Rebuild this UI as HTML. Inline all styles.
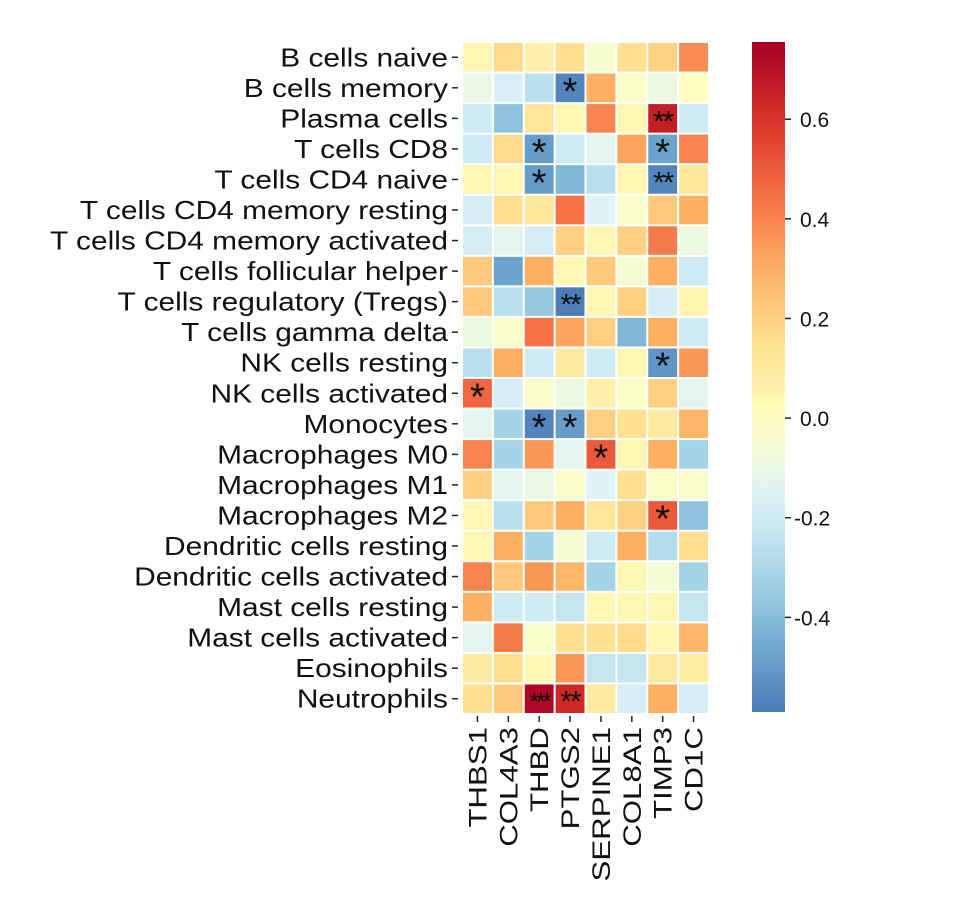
<!DOCTYPE html>
<html><head><meta charset="utf-8">
<style>
html,body{margin:0;padding:0;background:#fff;}
svg{display:block;font-family:"Liberation Sans",Arial,sans-serif;}
</style></head>
<body>
<svg id="chart" width="964" height="916" viewBox="0 0 964 916" xmlns="http://www.w3.org/2000/svg">
<defs>
<linearGradient id="cbgrad" x1="0" y1="1" x2="0" y2="0"></linearGradient>
</defs>
<g id="cells"></g>
<g id="rowlabels"></g>
<g id="collabels"></g>
<g id="cbar"></g>
</svg>
<script>
const rows = ["B cells naive","B cells memory","Plasma cells","T cells CD8","T cells CD4 naive","T cells CD4 memory resting","T cells CD4 memory activated","T cells follicular helper","T cells regulatory (Tregs)","T cells gamma delta","NK cells resting","NK cells activated","Monocytes","Macrophages M0","Macrophages M1","Macrophages M2","Dendritic cells resting","Dendritic cells activated","Mast cells resting","Mast cells activated","Eosinophils","Neutrophils"];
const cols = ["THBS1","COL4A3","THBD","PTGS2","SERPINE1","COL8A1","TIMP3","CD1C"];
const values = [
[0.04,0.17,0.07,0.15,-0.04,0.15,0.19,0.38],
[-0.1,-0.17,-0.26,-0.56,0.3,-0.02,-0.09,0.0],
[-0.2,-0.38,0.12,0.04,0.4,0.04,0.66,-0.2],
[-0.2,0.17,-0.5,-0.2,-0.13,0.32,-0.48,0.4],
[0.04,0.04,-0.5,-0.42,-0.26,0.04,-0.56,0.12],
[-0.18,0.15,0.12,0.44,-0.15,-0.03,0.22,0.3],
[-0.18,-0.13,-0.18,0.2,0.04,0.2,0.42,-0.09],
[0.22,-0.48,0.3,0.04,0.22,-0.05,0.3,-0.2],
[0.22,-0.26,-0.36,-0.58,0.04,0.2,-0.18,0.05],
[-0.09,-0.03,0.44,0.32,0.2,-0.42,0.3,-0.2],
[-0.26,0.3,-0.2,0.1,-0.2,0.04,-0.52,0.35],
[0.47,-0.18,-0.03,-0.09,0.07,-0.02,0.2,-0.13],
[-0.13,-0.32,-0.56,-0.5,0.2,0.15,0.1,0.28],
[0.4,-0.32,0.35,-0.13,0.5,0.04,0.3,-0.32],
[0.2,-0.13,-0.1,-0.03,-0.15,0.15,-0.02,-0.03],
[0.04,-0.26,0.22,0.3,0.12,0.2,0.5,-0.38],
[0.04,0.3,-0.32,-0.05,-0.2,0.3,-0.28,0.15],
[0.4,0.22,0.35,0.28,-0.32,0.04,-0.05,-0.32],
[0.3,-0.2,-0.2,-0.23,0.04,0.04,0.04,-0.23],
[-0.13,0.42,-0.03,0.15,0.15,0.17,0.04,0.28],
[0.1,0.15,0.04,0.35,-0.23,-0.23,0.1,0.08],
[0.15,0.22,0.73,0.63,0.1,-0.18,0.3,-0.18]
];
const stars = [
["","","","","","","",""],
["","","","*","","","",""],
["","","","","","","**",""],
["","","*","","","","*",""],
["","","*","","","","**",""],
["","","","","","","",""],
["","","","","","","",""],
["","","","","","","",""],
["","","","**","","","",""],
["","","","","","","",""],
["","","","","","","*",""],
["*","","","","","","",""],
["","","*","*","","","",""],
["","","","","*","","",""],
["","","","","","","",""],
["","","","","","","*",""],
["","","","","","","",""],
["","","","","","","",""],
["","","","","","","",""],
["","","","","","","",""],
["","","","","","","",""],
["","","***","**","","","",""]
];
const cbTicks = [0.6,0.4,0.2,0.0,-0.2,-0.4];
const cbTickLabels = ["0.6","0.4","0.2","0.0","-0.2","-0.4"];

const NS="http://www.w3.org/2000/svg";
const stops=[[0,[49,54,149]],[0.1,[69,117,180]],[0.2,[116,173,209]],[0.3,[171,217,233]],[0.4,[224,243,248]],[0.5,[255,255,191]],[0.6,[254,224,144]],[0.7,[253,174,97]],[0.8,[244,109,67]],[0.9,[215,48,39]],[1,[165,0,38]]];
const VMAX=0.755, VMIN=-0.59;
function cmap(v){
  let t=0.5+v/(2*VMAX); t=Math.max(0,Math.min(1,t));
  for(let i=0;i<stops.length-1;i++){
    const a=stops[i],b=stops[i+1];
    if(t<=b[0]){const f=(t-a[0])/(b[0]-a[0]);
      const c=a[1].map((x,k)=>Math.round(x+(b[1][k]-x)*f));
      return `rgb(${c[0]},${c[1]},${c[2]})`;}
  }
  return "rgb(165,0,38)";
}
const X0=462,X1=709,Y0=42,Y1=714;
const cw=(X1-X0)/cols.length, ch=(Y1-Y0)/rows.length;
const xPos=j=>X0+j*cw, yPos=i=>Y0+i*ch;
function mk(tag,attrs,parent){const e=document.createElementNS(NS,tag);for(const k in attrs)e.setAttribute(k,attrs[k]);parent.appendChild(e);return e;}
const gC=document.getElementById('cells');
values.forEach((row,i)=>row.forEach((v,j)=>{
  const r=mk('rect',{x:xPos(j)+1,y:yPos(i)+1,width:cw-2,height:ch-2,fill:cmap(v)},gC);
  
  
  const s=stars[i][j];
  if(s){const n=s.length;
    const t=mk('text',{x:xPos(j)+cw/2,y:yPos(i)+ch/2+(n>=3?11:(n==2?13:16)),'text-anchor':'middle','font-size':n>=3?24:(n==2?30:38),fill:'#111','letter-spacing':n>=3?'-3':(n==2?'-2':'0')},gC);
    t.textContent=s;
    
    }
}));
const gR=document.getElementById('rowlabels');
rows.forEach((name,i)=>{
  const cy=yPos(i)+ch/2;
  const tk=mk('line',{x1:X0-10,x2:X0-4,y1:cy,y2:cy,stroke:'#222','stroke-width':1.5},gR);
  
  
  const t=mk('text',{x:X0-14,y:cy+9,'text-anchor':'end','font-size':26,fill:'#111'},gR);
  t.textContent=name;
  
  
  t.setAttribute('transform',`translate(${X0-14},0) scale(1.15,1) translate(${-(X0-14)},0)`);
});
const gX=document.getElementById('collabels');
cols.forEach((name,j)=>{
  const cx=xPos(j)+cw/2;
  const tk=mk('line',{x1:cx,x2:cx,y1:Y1+2,y2:Y1+8,stroke:'#222','stroke-width':1.5},gX);
  
  
  const t=mk('text',{x:0,y:0,'text-anchor':'end','font-size':25,fill:'#111',transform:`translate(${cx+9},${Y1+13}) rotate(-90) scale(1.25,1)`},gX);
  t.textContent=name;
  
  
});
const CBX=752,CBW=33,CBT=42,CBB=712;
const grad=document.getElementById('cbgrad');
for(let k=0;k<=20;k++){const v=VMIN+(VMAX-VMIN)*k/20;mk('stop',{offset:(k/20),'stop-color':cmap(v)},grad);}
const gB=document.getElementById('cbar');
const cb=mk('rect',{x:CBX,y:CBT,width:CBW,height:CBB-CBT,fill:'url(#cbgrad)'},gB);


const cbY=v=>CBB-(v-VMIN)/(VMAX-VMIN)*(CBB-CBT);
cbTicks.forEach((v,k)=>{
  const y=cbY(v);
  const tk=mk('line',{x1:CBX+CBW,x2:CBX+CBW+6,y1:y,y2:y,stroke:'#222','stroke-width':1.5},gB);
  
  
  const t=mk('text',{x:CBX+CBW+(v<0?9:15),y:y+8,'font-size':21,fill:'#111'},gB);
  t.textContent=cbTickLabels[k];
  
  
});
</script>
</body></html>
